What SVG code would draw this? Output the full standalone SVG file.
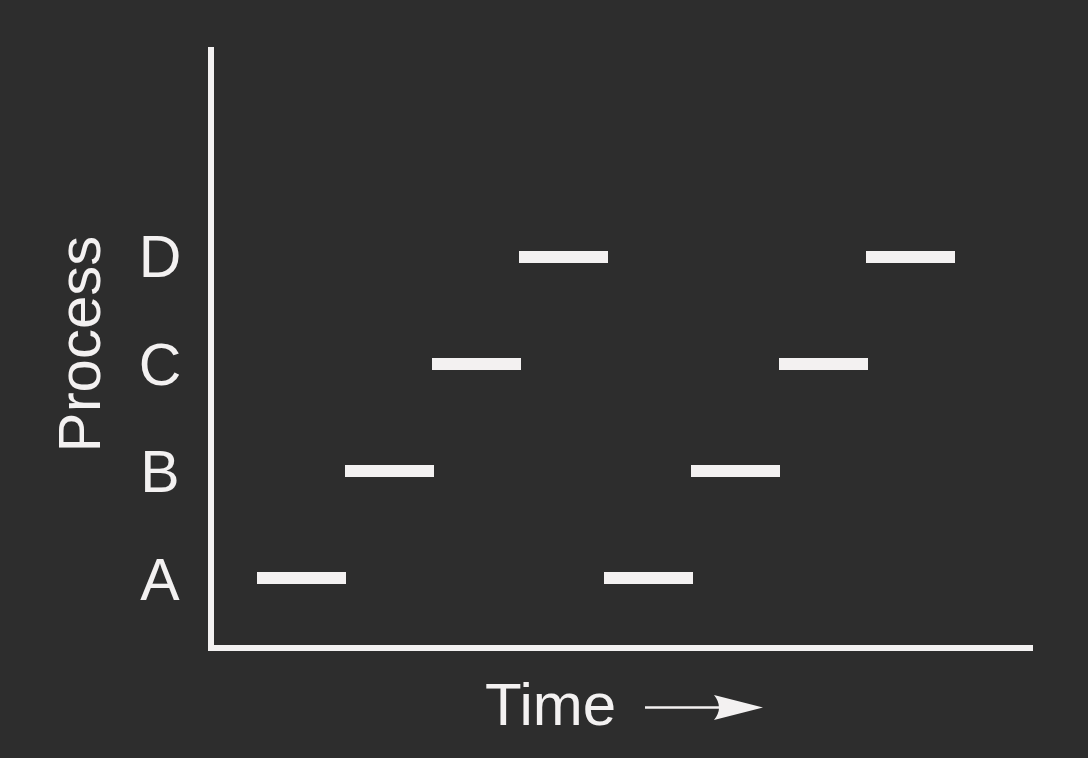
<svg xmlns="http://www.w3.org/2000/svg" width="1088" height="758" viewBox="0 0 1088 758">
<style>
.lbl{font-family:"Liberation Sans",Arial,sans-serif;font-size:59px;fill:#f3f1f1}
.big{font-size:60px}
.bar{fill:#f3f1f1}
.axis{stroke:#f3f1f1;stroke-width:6;fill:none}
</style>
<rect width="1088" height="758" fill="#2d2d2d"/>
<g id="axes">
<path class="axis" d="M211,47 V648 H1033"/>
</g>
<g id="labels">
<text class="lbl" x="160" y="277" text-anchor="middle">D</text>
<text class="lbl" x="160" y="385" text-anchor="middle">C</text>
<text class="lbl" x="160" y="492" text-anchor="middle">B</text>
<text class="lbl" x="160" y="600" text-anchor="middle">A</text>
<text class="lbl big" x="0" y="0" text-anchor="middle" transform="translate(100,344) rotate(-90)">Process</text>
<text class="lbl big" x="485" y="725">Time</text>
</g>
<g id="connectors">
<line x1="645" y1="707.5" x2="730" y2="707.5" stroke="#f3f1f1" stroke-width="2.5"/>
<path d="M763,707.5 L714,695 Q724,707.5 714,720 Z" fill="#f3f1f1"/>
</g>
<g id="bars">
<rect id="A1" class="bar" x="257" y="572" width="89" height="12"/>
<rect id="B1" class="bar" x="345" y="465" width="89" height="12"/>
<rect id="C1" class="bar" x="432" y="358" width="89" height="12"/>
<rect id="D1" class="bar" x="519" y="251" width="89" height="12"/>
<rect id="A2" class="bar" x="604" y="572" width="89" height="12"/>
<rect id="B2" class="bar" x="691" y="465" width="89" height="12"/>
<rect id="C2" class="bar" x="779" y="358" width="89" height="12"/>
<rect id="D2" class="bar" x="866" y="251" width="89" height="12"/>
</g>
</svg>
